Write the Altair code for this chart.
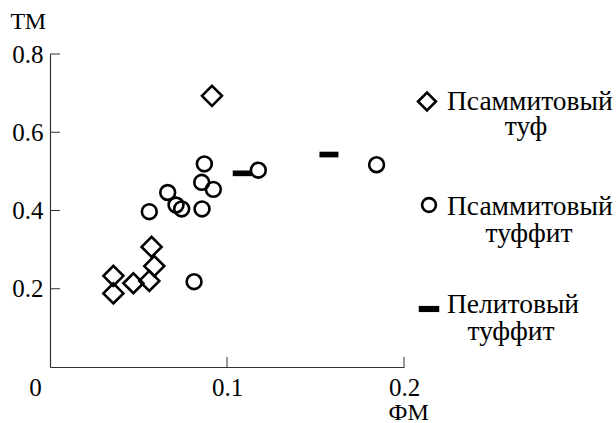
import altair as alt
import pandas as pd

# ---- data ----
categories = ["Псаммитовый туф", "Псаммитовый туффит", "Пелитовый туффит"]

tuff_fm = [0.0915, 0.0574, 0.0589, 0.0561, 0.0471, 0.0358, 0.0358]
tuff_tm = [0.693, 0.307, 0.258, 0.220, 0.214, 0.233, 0.188]

tuffite_fm = [0.0872, 0.0857, 0.0923, 0.0665, 0.0712, 0.0744, 0.0859, 0.0561, 0.0814, 0.1177, 0.1845]
tuffite_tm = [0.519, 0.472, 0.454, 0.446, 0.414, 0.404, 0.404, 0.397, 0.218, 0.503, 0.517]

pel_fm = [0.1086, 0.1576]
pel_tm = [0.495, 0.543]

x_ticks = [0, 0.1, 0.2]
y_ticks = [0.2, 0.4, 0.6, 0.8]

# ---- layout ----
W, H = 354, 313
FONT = "Liberation Serif"
INK = "#000000"
AXC = "#333333"
DASH = "M-1,-0.3L1,-0.3L1,0.3L-1,0.3Z"

open_df = pd.DataFrame({
    "fm": tuff_fm + tuffite_fm,
    "tm": tuff_tm + tuffite_tm,
    "cat": [categories[0]] * len(tuff_fm) + [categories[1]] * len(tuffite_fm),
})
pel_df = pd.DataFrame({"fm": pel_fm, "tm": pel_tm, "cat": [categories[2]] * len(pel_fm)})

xs = alt.Scale(domain=[0, 0.2], nice=False, zero=True)
ys = alt.Scale(domain=[0, 0.8], nice=False, zero=True)

x_axis = alt.Axis(
    values=x_ticks, ticks=False, grid=False, labelFlush=False, format="~g",
    labelFont=FONT, labelFontSize=25, labelPadding=8, labelColor=INK,
    labelOffset={"condition": {"test": "datum.value == 0", "value": -15}, "value": 0},
    title="ФМ", titleAlign="left", titleBaseline="alphabetic", titleAngle=0,
    titleX=338, titleY=52, titleFont=FONT, titleFontSize=24, titleFontWeight="normal", titleColor=INK,
)
y_axis = alt.Axis(
    values=y_ticks, ticks=False, grid=False, format=".1f",
    labelFont=FONT, labelFontSize=25, labelPadding=7, labelColor=INK,
    title="ТМ", titleAngle=0, titleAlign="left", titleBaseline="alphabetic",
    titleX=-40, titleY=-26, titleFont=FONT, titleFontSize=24, titleFontWeight="normal", titleColor=INK,
)

open_pts = alt.Chart(open_df).mark_point(filled=False, stroke=INK, strokeWidth=2.6, opacity=1).encode(
    x=alt.X("fm:Q", scale=xs, axis=x_axis),
    y=alt.Y("tm:Q", scale=ys, axis=y_axis),
    shape=alt.Shape("cat:N", scale=alt.Scale(domain=categories[:2], range=["diamond", "circle"]), legend=None),
    size=alt.Size("cat:N", scale=alt.Scale(domain=categories[:2], range=[400, 220]), legend=None),
)

pel_pts = alt.Chart(pel_df).mark_point(shape=DASH, filled=True, fill=INK, stroke=None, size=360, opacity=1).encode(
    x=alt.X("fm:Q", scale=xs, axis=x_axis),
    y=alt.Y("tm:Q", scale=ys, axis=y_axis),
)

yt = alt.Chart(pd.DataFrame({"fm": [0.0] * len(y_ticks), "tm": y_ticks})).mark_rule(color=AXC, strokeWidth=1).encode(
    y=alt.Y("tm:Q", scale=ys, axis=y_axis), x=alt.value(0), x2=alt.value(10)
)
xt = alt.Chart(pd.DataFrame({"fm": x_ticks[1:]})).mark_rule(color=AXC, strokeWidth=1).encode(
    x=alt.X("fm:Q", scale=xs, axis=x_axis), y=alt.value(H), y2=alt.value(H - 10)
)

# ---- hand-made legend (symbol, first line, centred second line) ----
leg_pos = [  # (symbol x, symbol y, line1 baseline, line2 centre x, line2 baseline) relative to plot origin
    (377, 47.5, 56, 476, 81),
    (379, 151, 161, 479, 188),
    (379, 255, 259, 461, 286),
]
leg_shapes = ["diamond", "circle", DASH]
leg_sizes = [320, 190, 420]
leg_layers = []
for i, cat in enumerate(categories):
    sx, sy, b1, cx2, b2 = leg_pos[i]
    first, second = cat.split(" ")
    one = pd.DataFrame({"t": [first], "u": [second]})
    if i < 2:
        sym = alt.Chart(one).mark_point(shape=leg_shapes[i], filled=False, stroke=INK, strokeWidth=2.6,
                                        size=leg_sizes[i], opacity=1)
    else:
        sym = alt.Chart(one).mark_point(shape=DASH, filled=True, fill=INK, stroke=None, size=leg_sizes[i], opacity=1)
    leg_layers.append(sym.encode(x=alt.value(sx), y=alt.value(sy)))
    leg_layers.append(
        alt.Chart(one).mark_text(align="left", baseline="alphabetic", font=FONT, fontSize=27.5, color=INK)
        .encode(x=alt.value(397), y=alt.value(b1), text="t:N")
    )
    leg_layers.append(
        alt.Chart(one).mark_text(align="center", baseline="alphabetic", font=FONT, fontSize=27.5, color=INK)
        .encode(x=alt.value(cx2), y=alt.value(b2), text="u:N")
    )

chart = alt.layer(open_pts, pel_pts, yt, xt, *leg_layers).properties(
    width=W, height=H,
    padding={"left": 50, "top": 54, "right": 212, "bottom": 56},
    autosize=alt.AutoSizeParams(type="none"),
    background="white",
).configure_view(stroke=None).configure_axis(
    labelFont=FONT, titleFont=FONT, domainColor=AXC, domainWidth=1.2,
).configure_text(font=FONT)

chart.save("out.html", embed_options={"renderer": "svg", "actions": False})
